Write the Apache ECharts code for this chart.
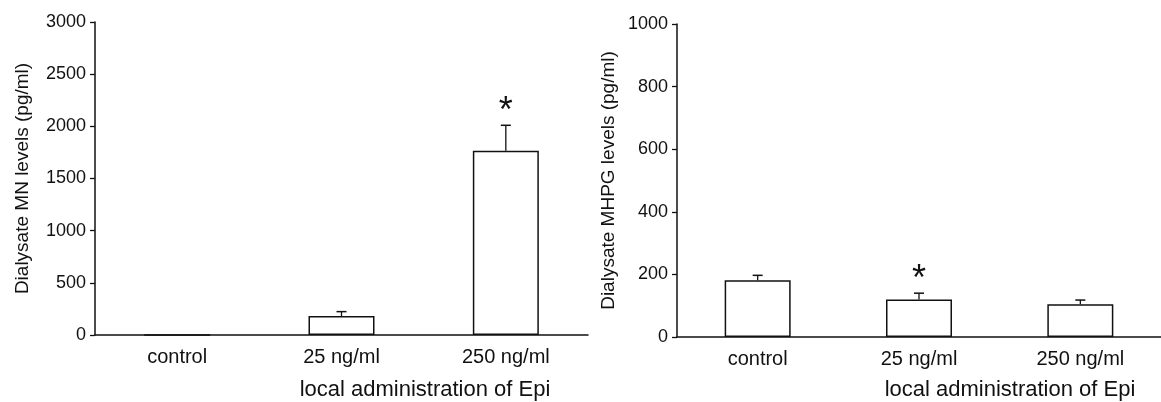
<!DOCTYPE html>
<html>
<head>
<meta charset="utf-8">
<script src="https://cdn.jsdelivr.net/npm/echarts@6.0.0/dist/echarts.min.js"></script>
<style>
html,body{margin:0;padding:0;background:#fff;}
#main{width:1161px;height:402px;}
</style>
</head>
<body>
<div id="main"></div>
<script>
// 数据
var categories = ['control', '25 ng/ml', '250 ng/ml'];
var mnMean = [0, 182, 1766];
var mnSem = [0, 42, 244];
var mnSig = [0, 0, 1];
var mhpgMean = [181, 120, 105];
var mhpgSem = [16, 20, 13];
var mhpgSig = [0, 1, 0];
var mnTicks = [0, 3000, 500];
var mhpgTicks = [0, 1000, 200];

var FONT = "'Liberation Sans', Arial, sans-serif";
var INK = '#111';

function errData(mean, sem, sig){
	var out = [];
	for(var i=0;i<mean.length;i++){
		out.push([i, mean[i], mean[i]+sem[i], sig[i]]);
	}
	return out;
}

//误差线 + 星号
function renderErr(params, api){
	var i = api.value(0), m = api.value(1), top = api.value(2), sig = api.value(3);
	var children = [];
	if(top > m){
		var p0 = api.coord([i, m]);
		var p1 = api.coord([i, top]);
		var half = 5;
		children.push({type:'line', shape:{x1:p0[0], y1:p0[1], x2:p1[0], y2:p1[1]}, style:{stroke:INK, lineWidth:1.3}});
		children.push({type:'line', shape:{x1:p1[0]-half, y1:p1[1], x2:p1[0]+half, y2:p1[1]}, style:{stroke:INK, lineWidth:1.5}});
		if(sig){
			children.push({type:'text', x:p1[0], y:p1[1]+5, style:{text:'*', font:'36px ' + FONT, fill:INK, align:'center', verticalAlign:'bottom'}});
		}
	}
	return {type:'group', children:children};
}

function yAxisOf(idx, name, ticks, gap){
	return {
		type:'value', gridIndex:idx, min:ticks[0], max:ticks[1], interval:ticks[2],
		name:name, nameLocation:'middle', nameGap:gap, nameRotate:90,
		nameTextStyle:{fontFamily:FONT, fontSize:19, color:INK},
		axisLine:{show:true, lineStyle:{color:INK, width:1.5}},
		axisTick:{show:true, length:5, lineStyle:{color:INK, width:1.3}},
		axisLabel:{fontFamily:FONT, fontSize:18, color:INK, margin:9, formatter:function(v){return String(v);}},
		splitLine:{show:false}
	};
}

function xAxisOf(idx){
	return {
		type:'category', gridIndex:idx, data:categories,
		axisLine:{lineStyle:{color:INK, width:1.5}},
		axisTick:{show:false},
		axisLabel:{fontFamily:FONT, fontSize:20, color:INK, margin:12}
	};
}

function barOf(idx, data){
	return {
		type:'bar', xAxisIndex:idx, yAxisIndex:idx, data:data, barWidth:66,
		itemStyle:{color:'#fff', borderColor:INK, borderWidth:1.5},
		silent:true
	};
}

var myChart = echarts.init(document.getElementById('main'), null, {renderer:'canvas'});
var option = {
	animation:false,
	grid:[
		{left:95, top:22, width:493, height:313},
		{left:677, top:24, width:496, height:313}
	],
	xAxis:[xAxisOf(0), xAxisOf(1)],
	yAxis:[
		yAxisOf(0, 'Dialysate MN levels (pg/ml)', mnTicks, 63),
		yAxisOf(1, 'Dialysate MHPG levels (pg/ml)', mhpgTicks, 59)
	],
	graphic:[
		{type:'text', x:425, y:390, style:{text:'local administration of Epi', font:'22px ' + FONT, fill:INK, align:'center', verticalAlign:'middle'}},
		{type:'text', x:1010, y:390, style:{text:'local administration of Epi', font:'22px ' + FONT, fill:INK, align:'center', verticalAlign:'middle'}}
	],
	series:[
		barOf(0, mnMean),
		barOf(1, mhpgMean),
		{type:'custom', xAxisIndex:0, yAxisIndex:0, data:errData(mnMean, mnSem, mnSig), renderItem:renderErr, z:5},
		{type:'custom', xAxisIndex:1, yAxisIndex:1, data:errData(mhpgMean, mhpgSem, mhpgSig), renderItem:renderErr, z:5}
	]
};
myChart.setOption(option);
</script>
</body>
</html>
